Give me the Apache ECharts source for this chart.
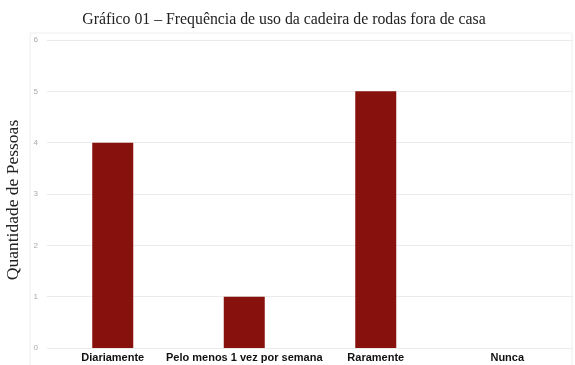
<!DOCTYPE html>
<html>
<head>
<meta charset="utf-8">
<script src="https://cdn.jsdelivr.net/npm/echarts@6/dist/echarts.min.js"></script>
<style>
    html, body { margin: 0; padding: 0; background: #fff; }
    #chart { width: 575px; height: 365px; }
</style>
</head>
<body>
<div id="chart"></div>
<script>
// dados do gráfico
const categorias = ['Diariamente', 'Pelo menos 1 vez por semana', 'Raramente', 'Nunca'];
const quantidades = [4, 1, 5, 0];
const titulo = 'Gráfico 01 – Frequência de uso da cadeira de rodas fora de casa';
const nomeEixoY = 'Quantidade de Pessoas';

(function () {
    const myChart = echarts.init(document.querySelector('#chart'));
    myChart.setOption({
        'animation': false,
        'title': {
            'text': titulo,
            'left': 279,
            'textAlign': 'center',
            'top': 7,
            'textStyle': {
                'fontFamily': 'Liberation Serif',
                'fontWeight': 'normal',
                'fontSize': 15.8,
                'color': '#222'
            }
        },
        'graphic': [{
            'type': 'rect',
            'shape': { 'x': 30, 'y': 33, 'width': 542, 'height': 340 },
            'style': { 'fill': 'none', 'stroke': '#eeeeee', 'lineWidth': 1 },
            'silent': true
        }],
        'grid': {
            'left': 47,
            'right': 2,
            'top': 40,
            'bottom': 17,
            'outerBoundsMode': 'none',
            'containLabel': false
        },
        'xAxis': {
            'type': 'category',
            'data': categorias,
            'axisLine': { 'show': false },
            'axisTick': { 'show': false },
            'axisLabel': {
                'interval': 0,
                'margin': 4,
                'fontFamily': 'Liberation Sans',
                'fontWeight': 'bold',
                'fontSize': 11,
                'color': '#111'
            }
        },
        'yAxis': {
            'type': 'value',
            'min': 0,
            'max': 6,
            'interval': 1,
            'name': nomeEixoY,
            'nameLocation': 'middle',
            'nameGap': 23,
            'nameTextStyle': {
                'fontFamily': 'Liberation Serif',
                'fontSize': 17.5,
                'color': '#222',
                'padding': [0, 12, 0, 0]
            },
            'axisLine': { 'show': false },
            'axisTick': { 'show': false },
            'axisLabel': {
                'fontSize': 8,
                'color': '#aaa',
                'margin': 9
            },
            'splitLine': {
                'lineStyle': { 'color': '#ebebeb' }
            }
        },
        'series': [{
            'type': 'bar',
            'data': quantidades,
            'barWidth': 41,
            'itemStyle': {
                'color': '#87110c'
            }
        }]
    });
})()
</script>
</body>
</html>
